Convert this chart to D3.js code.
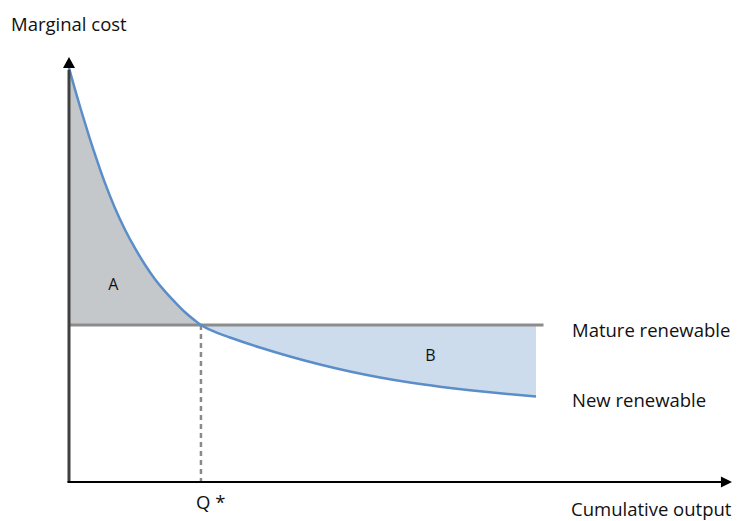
<!DOCTYPE html>
<html>
<head>
<meta charset="utf-8">
<script src="https://cdn.jsdelivr.net/npm/d3@7"></script>
<style>
  html, body { margin: 0; padding: 0; background: #fff; }
  svg { display: block; }
  text { font-family: "Open Sans", "Noto Sans", sans-serif; fill: #111; }
</style>
</head>
<body>
<svg id="chart" width="740" height="521"></svg>
<script>
// ---- data (abstract units: output 0..100, cost 0..100) ----
const curveX = [0, 0.92, 1.85, 3.08, 4.31, 5.54, 7.08, 8.62, 10.15, 11.69, 13.23, 14.77, 16.31,
                17.85, 19.38, 20.3, 22.46, 24.77, 29.38, 34.0, 38.62, 43.23, 47.85, 52.46,
                57.08, 61.69, 66.31, 71.85];
const curveY = [97.41, 92.4, 87.53, 81.41, 75.67, 70.31, 64.42, 59.36, 55.01, 51.13, 47.72, 44.85, 42.31,
                39.95, 38.0, 36.94, 35.34, 34.0, 31.65, 29.53, 27.65, 26.0, 24.59, 23.41,
                22.42, 21.58, 20.87, 20.12];
const matureCost = 36.94;
const matureEnd = 73;
const qStar = 20.3;
const axisLabels = ["Marginal cost", "Cumulative output"];
const seriesLabels = ["Mature renewable", "New renewable"];
const areaLabels = ["A", "B"];
const qLabel = "Q *";

const pts = curveX.map((x, i) => ({ x, y: curveY[i] }));

const svg = d3.select("#chart");
const x = d3.scaleLinear().domain([0, 100]).range([69, 719]);
const y = d3.scaleLinear().domain([0, 100]).range([482, 57]);

const defs = svg.append("defs");
defs.append("clipPath").attr("id", "clipA").append("rect")
  .attr("x", x(0)).attr("y", 0).attr("width", x(qStar) - x(0)).attr("height", 521);
defs.append("clipPath").attr("id", "clipB").append("rect")
  .attr("x", x(qStar)).attr("y", 0).attr("width", 740 - x(qStar)).attr("height", 521);

const area = d3.area().x(d => x(d.x)).y0(y(matureCost)).y1(d => y(d.y)).curve(d3.curveMonotoneX);
const line = d3.line().x(d => x(d.x)).y(d => y(d.y)).curve(d3.curveMonotoneX);

svg.append("path").attr("d", area(pts)).attr("fill", "#c5c8cb").attr("clip-path", "url(#clipA)");
svg.append("path").attr("d", area(pts)).attr("fill", "#ccdcec").attr("clip-path", "url(#clipB)");

// dashed Q* line
svg.append("line")
  .attr("x1", x(qStar)).attr("x2", x(qStar))
  .attr("y1", y(matureCost)).attr("y2", y(0))
  .attr("stroke", "#8a8a8a").attr("stroke-width", 2.5).attr("stroke-dasharray", "5,4");

// mature line
svg.append("line")
  .attr("x1", x(0)).attr("x2", x(matureEnd))
  .attr("y1", y(matureCost)).attr("y2", y(matureCost))
  .attr("stroke", "#8c8c8c").attr("stroke-width", 3);

// new renewable curve
svg.append("path").attr("d", line(pts)).attr("fill", "none")
  .attr("stroke", "#5b8dc9").attr("stroke-width", 2.5);

// axes
svg.append("line").attr("x1", x(0)).attr("x2", x(0)).attr("y1", y(0)).attr("y2", y(97))
  .attr("stroke", "#404040").attr("stroke-width", 3);
svg.append("path")
  .attr("d", `M${x(0)},${y(100)} L${x(0) - 6},${y(97.4)} L${x(0) + 6},${y(97.4)} Z`)
  .attr("fill", "#000");
svg.append("line").attr("x1", x(0) - 1.5).attr("x2", x(100.5)).attr("y1", y(0)).attr("y2", y(0))
  .attr("stroke", "#000").attr("stroke-width", 2);
svg.append("path")
  .attr("d", `M${x(102)},${y(0)} L${x(100.3)},${y(0) - 5.5} L${x(100.3)},${y(0) + 5.5} Z`)
  .attr("fill", "#000");

// labels
const fs = 18.5;
svg.append("text").attr("x", 11).attr("y", 31).attr("font-size", fs).text(axisLabels[0]);
svg.append("text").attr("x", 571).attr("y", 516).attr("font-size", fs).text(axisLabels[1]);
svg.append("text").attr("x", 572).attr("y", y(matureCost) + 12).attr("font-size", fs).text(seriesLabels[0]);
svg.append("text").attr("x", 572).attr("y", 407).attr("font-size", fs).text(seriesLabels[1]);
svg.append("text").attr("x", x(6.8)).attr("y", 290).attr("text-anchor", "middle").attr("font-size", 16).text(areaLabels[0]);
svg.append("text").attr("x", x(55.6)).attr("y", 361).attr("text-anchor", "middle").attr("font-size", 16).text(areaLabels[1]);
svg.append("text").attr("x", 196).attr("y", 509).attr("font-size", fs).text(qLabel);
</script>
</body>
</html>
